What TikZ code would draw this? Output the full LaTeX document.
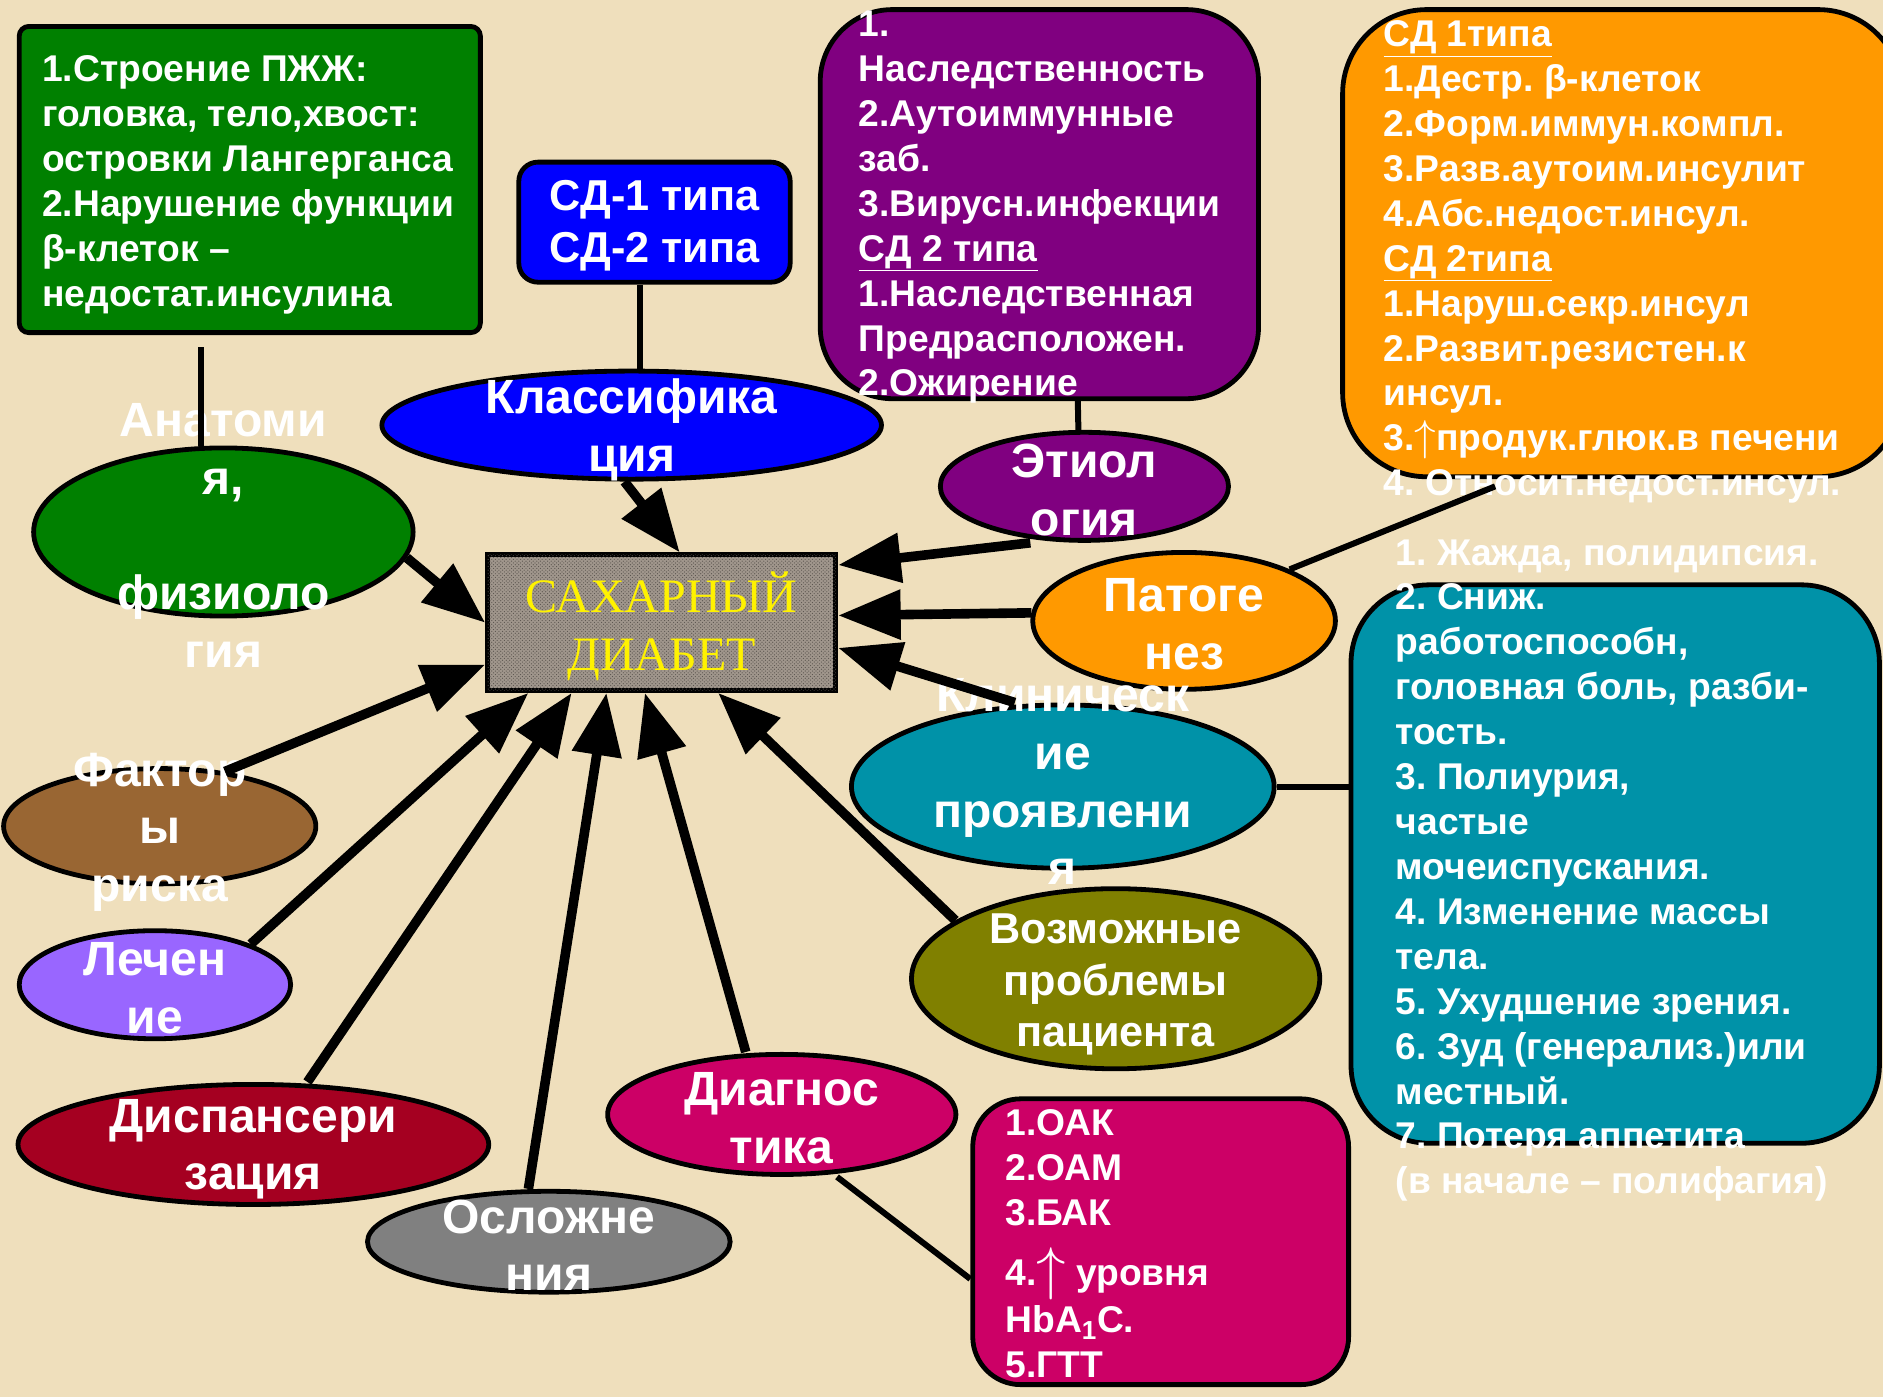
\documentclass[tikz,border=0pt]{standalone}
\usepackage{fontspec}
\setmainfont{Liberation Sans}
\newfontfamily\timesfont{Liberation Serif}
\usepackage{graphicx}
\usepackage{tikz}
\usetikzlibrary{arrows.meta,shapes.geometric,patterns}
\definecolor{Parchment}{RGB}{239,223,188}
\definecolor{AnatGreen}{RGB}{0,128,0}
\definecolor{KlassBlue}{RGB}{0,0,255}
\definecolor{EtioPurple}{RGB}{128,0,128}
\definecolor{PatoOrange}{RGB}{255,153,0}
\definecolor{KlinTeal}{RGB}{0,146,168}
\definecolor{VozmOlive}{RGB}{128,128,0}
\definecolor{DiagPink}{RGB}{204,0,102}
\definecolor{OslGray}{RGB}{128,128,128}
\definecolor{DispRed}{RGB}{165,0,33}
\definecolor{LechViolet}{RGB}{153,102,255}
\definecolor{FaktBrown}{RGB}{153,102,51}
\definecolor{Granite}{RGB}{160,150,140}

\begin{document}
\frenchspacing
\begin{tikzpicture}[x=1pt,y=-1pt,
  oval/.style={ellipse,draw=black,line width=4pt,inner sep=0pt},
  panel/.style={rectangle,draw=black,line width=4pt,inner sep=0pt},
  boxtext/.style={text=white,font=\bfseries\fontsize{31}{37.4}\selectfont,align=left,inner sep=0pt,anchor=north west},
  ovaltext/.style={text=white,font=\bfseries\fontsize{40}{48}\selectfont,align=center,inner sep=0pt,yshift=-3pt},
  feed/.style={line width=8pt,-{Triangle[length=52pt,width=40pt]}},
  link/.style={line width=5pt}]
\useasboundingbox (0,0) rectangle (1568,1163.3);
\fill[Parchment] (0,0) rectangle (1568,1163.3);
%
% text panels
\node[panel,fill=AnatGreen,rounded corners=8pt,minimum width=384pt,minimum height=255pt] (anatbox) at (208,149.5) {};
\node[panel,fill=KlassBlue,rounded corners=16pt,minimum width=226pt,minimum height=100pt] (tipbox) at (545,185) {};
\node[panel,fill=EtioPurple,rounded corners=60pt,minimum width=365pt,minimum height=324pt] (etiobox) at (865.5,170) {};
\node[panel,fill=PatoOrange,rounded corners=70pt,minimum width=466pt,minimum height=389pt] (patobox) at (1351,202.5) {};
\node[panel,fill=KlinTeal,rounded corners=65pt,minimum width=440pt,minimum height=465pt] (klinbox) at (1345,719.5) {};
\node[panel,fill=DiagPink,rounded corners=40pt,minimum width=313pt,minimum height=238pt] (diagbox) at (966.5,1034) {};
%
% ovals
\node[oval,fill=AnatGreen,minimum width=316pt,minimum height=140pt] (anat) at (186,443) {};
\node[oval,fill=KlassBlue,minimum width=416pt,minimum height=90pt] (klass) at (526,354) {};
\node[oval,fill=EtioPurple,minimum width=240pt,minimum height=90pt] (etio) at (903,405) {};
\node[oval,fill=PatoOrange,minimum width=252pt,minimum height=114pt] (pato) at (986,517) {};
\node[oval,fill=KlinTeal,minimum width=352pt,minimum height=136pt] (klin) at (885,655) {};
\node[oval,fill=VozmOlive,minimum width=340pt,minimum height=150pt] (vozm) at (929,815) {};
\node[oval,fill=DiagPink,minimum width=290pt,minimum height=100pt] (diag) at (651,928) {};
\node[oval,fill=DispRed,minimum width=392pt,minimum height=100pt] (disp) at (211,953) {};
\node[oval,fill=OslGray,minimum width=302pt,minimum height=84pt] (osl) at (457,1034) {};
\node[oval,fill=LechViolet,minimum width=226pt,minimum height=90pt] (lech) at (129,820) {};
\node[oval,fill=FaktBrown,minimum width=260pt,minimum height=96pt] (fakt) at (133,688) {};
\node[panel,fill=Granite,minimum width=290pt,minimum height=113pt,
  postaction={pattern=crosshatch dots,pattern color=Granite!55!black}] (sd) at (551,518.5) {};
%
% texts
\node[boxtext] (anattext) at (35,46) {1.Строение ПЖЖ:\\головка, тело,хвост:\\островки Лангерганса\\2.Нарушение функции\\β-клеток –\\недостат.инсулина};
\node[boxtext,align=center,anchor=center,font=\bfseries\fontsize{36}{44}\selectfont] (tiptext) at ([yshift=-3pt]tipbox.center) {СД-1 типа\\СД-2 типа};
\node[boxtext] (etiotext) at (715,9) {1.\\Наследственность\\2.Аутоиммунные\\заб.\\3.Вирусн.инфекции\\\underline{СД 2 типа}\\1.Наследственная\\Предрасположен.\\2.Ожирение};
\node[boxtext] (patotext) at (1152,17) {\underline{СД 1типа}\\1.Дестр. β-клеток\\2.Форм.иммун.компл.\\3.Разв.аутоим.инсулит\\4.Абс.недост.инсул.\\\underline{СД 2типа}\\1.Наруш.секр.инсул\\2.Развит.резистен.к\\инсул.\\3.\resizebox{!}{25pt}{$\uparrow$}продук.глюк.в печени\\4. Относит.недост.инсул.};
\node[boxtext] (klintext) at (1162,449) {1. Жажда, полидипсия.\\2. Сниж.\\работоспособн,\\головная боль, разби-\\тость.\\3. Полиурия,\\частые\\мочеиспускания.\\4. Изменение массы\\тела.\\5. Ухудшение зрения.\\6. Зуд (генерализ.)или\\местный.\\7. Потеря аппетита\\(в начале – полифагия)};
\node[boxtext] (diagtext) at (837,924) {1.ОАК\\2.ОАМ\\3.БАК\\[12pt]4.\raisebox{-3pt}{\resizebox{!}{34pt}{$\uparrow$}} уровня\\[2pt]HbA\textsubscript{1}C.\\5.ГТТ};
%
\node[ovaltext] (anatlbl) at (anat) {Анатоми\\я,\\[48pt]физиоло\\гия};
\node[ovaltext,yshift=-1pt] (klasslbl) at (klass) {Классифика\\ция};
\node[ovaltext] (etiolbl) at (etio) {Этиол\\огия};
\node[ovaltext] (patolbl) at (pato) {Патоге\\нез};
\node[ovaltext,yshift=7pt] (klinlbl) at (klin) {Клиническ\\ие\\проявлени\\я};
\node[ovaltext,yshift=-2pt,font=\bfseries\fontsize{36}{43}\selectfont] (vozmlbl) at (vozm) {Возможные\\проблемы\\пациента};
\node[ovaltext] (diaglbl) at (diag) {Диагнос\\тика};
\node[ovaltext,yshift=-1pt] (displbl) at (disp) {Диспансери\\зация};
\node[ovaltext] (osllbl) at (osl) {Осложне\\ния};
\node[ovaltext] (lechlbl) at (lech) {Лечен\\ие};
\node[ovaltext,yshift=-2pt] (faktlbl) at (fakt) {Фактор\\ы\\риска};
\node[ovaltext,text=yellow,font=\timesfont\fontsize{40}{49}\selectfont] (sdlbl) at (sd) {САХАРНЫЙ\\ДИАБЕТ};
%
% connectors
\draw[link] ([xshift=-41pt,yshift=-10pt]anatbox.south) -- ([xshift=-19pt]anat.north);
\draw[link] ([xshift=-12pt]tipbox.south) -- ([xshift=7pt]klass.north);
\draw[link] ([xshift=32pt]etiobox.south) -- ([xshift=-5pt]etio.north);
\coordinate (patoend) at (1245,405);
\draw[link] (pato.26) -- (patoend);
\draw[link] (klin.east) -- (klin.east -| klinbox.west);
\draw[link] ([xshift=46pt]diag.south) -- ([yshift=-31pt]diagbox.west);
%
\draw[feed] ([xshift=-6pt]klass.south) -- ([xshift=15pt]sd.north);
\draw[feed] (anat.-8) -- (sd.west);
\draw[feed] (fakt.40) -- ([yshift=-35pt]sd.west);
\draw[feed] (lech.23) -- ([xshift=-111pt]sd.south);
\draw[feed] ([xshift=45pt]disp.north) -- ([xshift=-75pt]sd.south);
\draw[feed] ([xshift=-17pt]osl.north) -- ([xshift=-46pt]sd.south);
\draw[feed] ([xshift=-30pt]diag.north) -- ([xshift=-14pt]sd.south);
\draw[feed] (vozm.160) -- ([xshift=47pt]sd.south);
\draw[feed] ([xshift=-40pt]klin.north) -- ([yshift=-21pt]sd.east);
\draw[feed] (pato.177) -- ([yshift=6pt]sd.east);
\draw[feed] ([xshift=-45pt]etio.south) -- ([yshift=48pt]sd.east);
%
\end{tikzpicture}
\end{document}
